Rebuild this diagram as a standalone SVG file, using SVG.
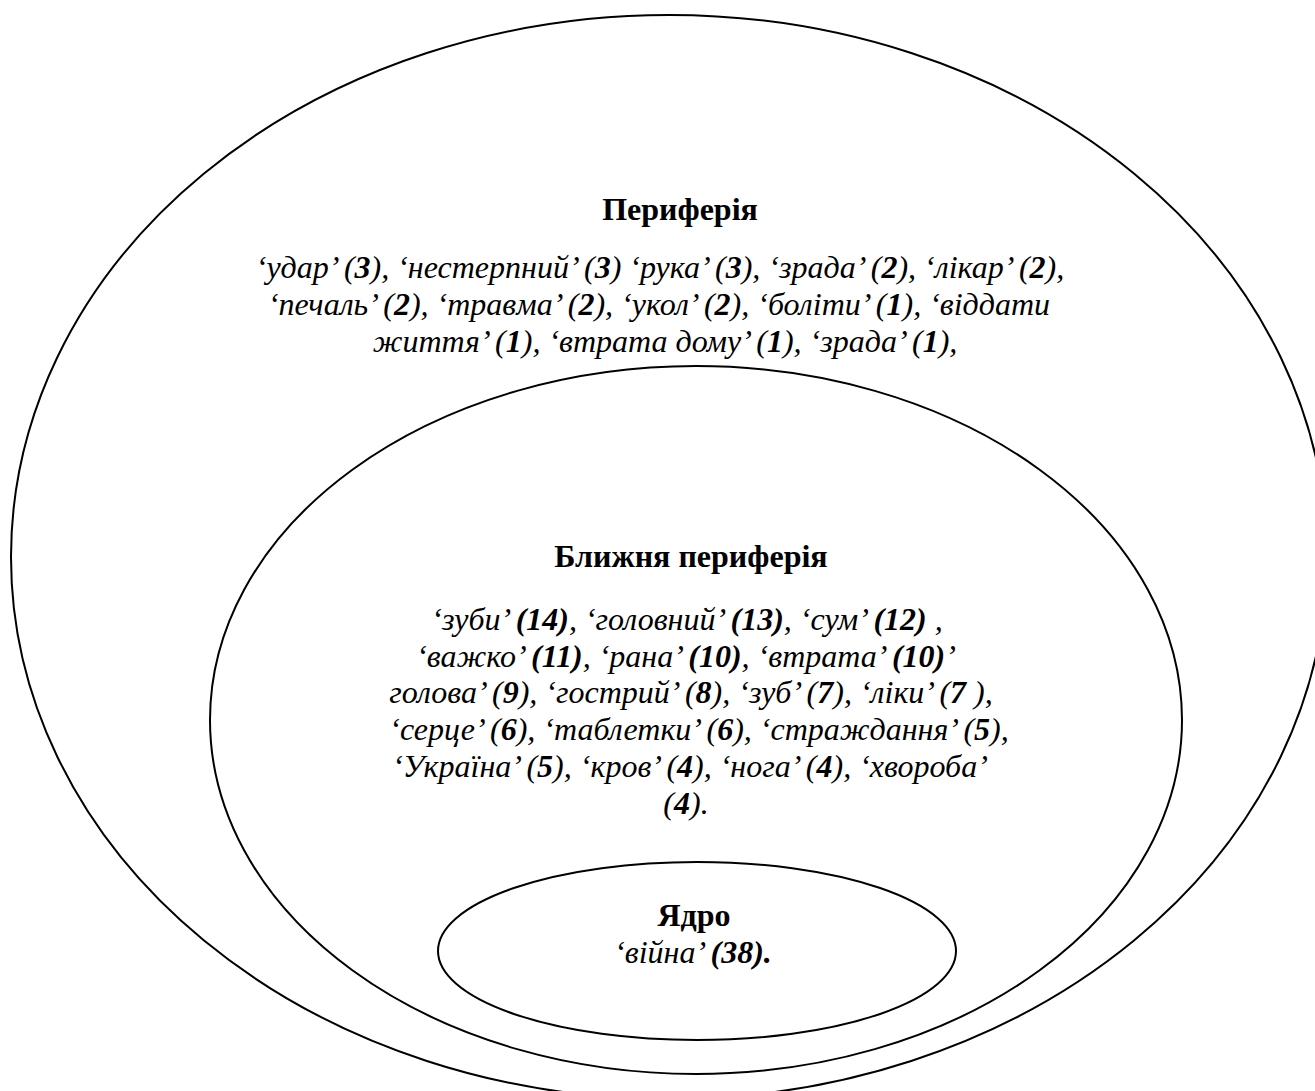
<svg xmlns="http://www.w3.org/2000/svg" width="1315" height="1091" viewBox="0 0 1315 1091">
<style>
.e{fill:none;stroke:#000;stroke-width:2}
text{font-family:"Liberation Serif","Times New Roman",serif;font-size:32px;fill:#000;text-anchor:middle}
.t{font-weight:bold}
.i{font-style:italic}
.b{font-weight:bold}
</style>
<rect width="1315" height="1091" fill="#fff"/>
<g id="periphery">
<ellipse class="e" cx="669" cy="557" rx="658" ry="542"/>
<text class="t" x="680" y="220">Периферія</text>
<text class="i" x="660" y="278">‘удар’ (<tspan class="b">3</tspan>), ‘нестерпний’ (<tspan class="b">3</tspan>) ‘рука’ (<tspan class="b">3</tspan>), ‘зрада’ (<tspan class="b">2</tspan>), ‘лікар’ (<tspan class="b">2</tspan>),</text>
<text class="i" x="659" y="315">‘печаль’ (<tspan class="b">2</tspan>), ‘травма’ (<tspan class="b">2</tspan>), ‘укол’ (<tspan class="b">2</tspan>), ‘боліти’ (<tspan class="b">1</tspan>), ‘віддати</text>
<text class="i" x="665" y="352">життя’ (<tspan class="b">1</tspan>), ‘втрата дому’ (<tspan class="b">1</tspan>), ‘зрада’ (<tspan class="b">1</tspan>),</text>
</g>
<g id="near-periphery">
<ellipse class="e" cx="696" cy="720" rx="486" ry="354"/>
<text class="t" x="691" y="567">Ближня периферія</text>
<text class="i" x="687" y="630">‘зуби’ <tspan class="b">(14)</tspan>, ‘головний’ <tspan class="b">(13)</tspan>, ‘сум’ <tspan class="b">(12)</tspan> ,</text>
<text class="i" x="686" y="667">‘важко’ <tspan class="b">(11)</tspan>, ‘рана’ <tspan class="b">(10)</tspan>, ‘втрата’ <tspan class="b">(10)</tspan>’</text>
<text class="i" x="691" y="703">голова’ (<tspan class="b">9</tspan>), ‘гострий’ (<tspan class="b">8</tspan>), ‘зуб’ (<tspan class="b">7</tspan>), ‘ліки’ (<tspan class="b">7</tspan> ),</text>
<text class="i" x="699" y="740">‘серце’ (<tspan class="b">6</tspan>), ‘таблетки’ (<tspan class="b">6</tspan>), ‘страждання’ (<tspan class="b">5</tspan>),</text>
<text class="i" x="690" y="777">‘Україна’ (<tspan class="b">5</tspan>), ‘кров’ (<tspan class="b">4</tspan>), ‘нога’ (<tspan class="b">4</tspan>), ‘хвороба’</text>
<text class="i" x="686" y="814">(<tspan class="b">4</tspan>).</text>
</g>
<g id="core">
<ellipse class="e" cx="697" cy="951" rx="259" ry="89"/>
<text class="t" x="694" y="926">Ядро</text>
<text class="i" x="693" y="963">‘війна’  <tspan class="b">(38).</tspan></text>
</g>
<g id="connectors"/>
</svg>
